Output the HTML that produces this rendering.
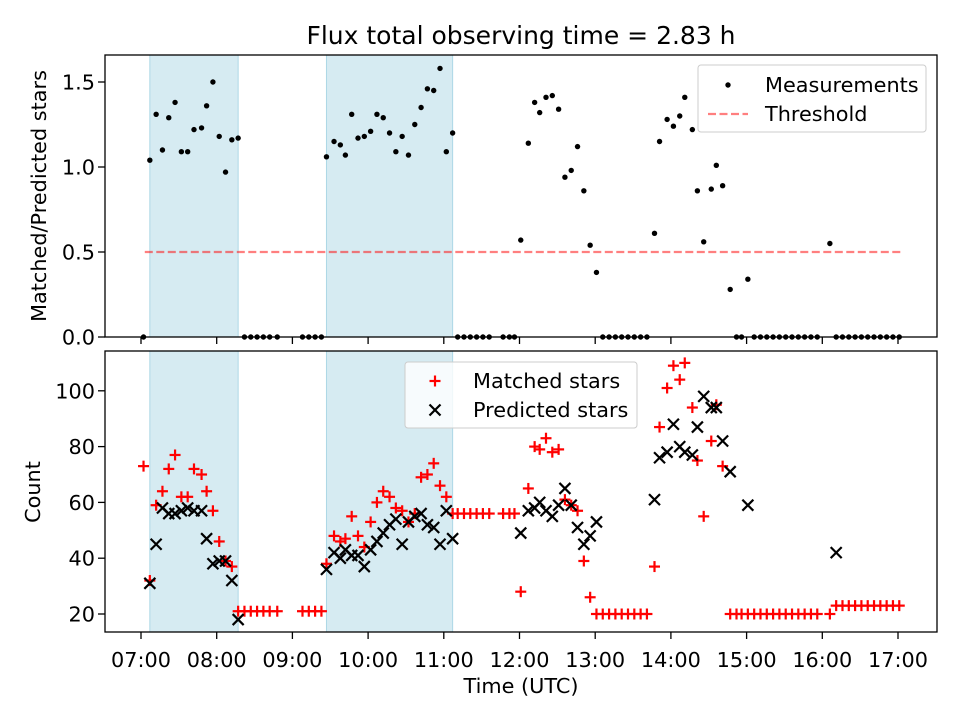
<!DOCTYPE html>
<html><head><meta charset="utf-8"><style>
body{margin:0;background:#fff}
svg text{font-family:"DejaVu Sans","Liberation Sans",sans-serif;fill:#000}
</style></head><body>
<svg id="c" width="960" height="720" xmlns="http://www.w3.org/2000/svg"></svg>
<script>
// minutes after 07:00 UTC
const minutes=[2,7,12,17,22,27,32,37,42,48,52,57,62,67,72,77,82,87,92,97,102,108,128,133,138,143,147,153,158,162,167,172,177,182,187,192,197,202,207,212,217,222,227,232,237,242,247,251,256,261,266,271,276,287,292,296,301,307,312,316,321,326,331,336,341,346,351,356,361,366,371,376,381,386,391,396,401,407,411,417,422,427,431,437,441,446,452,456,461,467,472,476,481,486,491,496,501,506,511,516,521,526,531,536,546,551,556,561,566,571,576,581,586,591,596,601];
const ratio=[0,1.04,1.31,1.10,1.29,1.38,1.09,1.09,1.22,1.23,1.36,1.50,1.18,0.97,1.16,1.17,0,0,0,0,0,0,0,0,0,0,1.06,1.15,1.13,1.07,1.31,1.17,1.18,1.21,1.31,1.29,1.20,1.09,1.18,1.07,1.25,1.35,1.46,1.45,1.58,1.09,1.20,0,0,0,0,0,0,0,0,0,0.57,1.14,1.38,1.32,1.41,1.42,1.34,0.94,0.98,1.12,0.86,0.54,0.38,0,0,0,0,0,0,0,0,0.61,1.15,1.28,1.24,1.30,1.41,1.22,0.86,0.56,0.87,1.01,0.89,0.28,0,0,0.34,0,0,0,0,0,0,0,0,0,0,0,0.55,0,0,0,0,0,0,0,0,0,0,0];
const matched=[73,32,59,64,72,77,62,62,72,70,64,57,46,39,37,21,21,21,21,21,21,21,21,21,21,21,38,48,46,47,55,48,44,53,60,64,62,58,57,53,56,69,70,74,66,62,56,56,56,56,56,56,56,56,56,56,28,65,80,79,83,78,79,61,59,57,39,26,20,20,20,20,20,20,20,20,20,37,87,101,109,104,110,94,75,55,82,95,73,20,20,20,20,20,20,20,20,20,20,20,20,20,20,20,20,23,23,23,23,23,23,23,23,23,23,23,23];
const predicted=[null,31,45,58,56,56,57,58,57,57,47,38,39,39,32,18,null,null,null,null,null,null,null,null,null,null,36,42,40,43,41,41,37,43,46,49,52,54,45,53,55,56,52,51,45,57,47,null,null,null,null,null,null,null,null,null,49,57,58,60,57,55,59,65,59,51,45,48,53,null,null,null,null,null,null,null,null,61,76,78,88,80,78,77,87,98,94,94,82,71,null,null,59,null,null,null,null,null,null,null,null,null,null,null,null,42,null,null,null,null,null,null,null,null,null,null,null];
const shadeStart=[7,147], shadeEnd=[77,247];
const threshold=0.5;
const xTicks=[0,60,120,180,240,300,360,420,480,540,600];
const xTickLabels=["07:00","08:00","09:00","10:00","11:00","12:00","13:00","14:00","15:00","16:00","17:00"];
const yTopTicks=[0,0.5,1.0,1.5], yTopLabels=["0.0","0.5","1.0","1.5"];
const yBotTicks=[20,40,60,80,100], yBotLabels=["20","40","60","80","100"];

const NS="http://www.w3.org/2000/svg";
const svg=document.getElementById('c');
function el(tag,attrs,parent,text){const e=document.createElementNS(NS,tag);for(const k in attrs)e.setAttribute(k,attrs[k]);if(text!==undefined)e.textContent=text;(parent||svg).appendChild(e);return e;}
const L=105,R=937;
const FS=20.8;
const x=m=>141+m*75.7/60;
const yT=v=>337-v*170;
const yB=v=>614-(v-20)*2.79;
const topP={t:55,b:337}, botP={t:351,b:632};

const title=el('text',{x:521,y:44,'text-anchor':'middle','font-size':25},svg,'Flux total observing time = 2.83 h');



function panel(p,name){
  const g=el('g',{});
  
  
  for(let i=0;i<shadeStart.length;i++){
    const r=el('rect',{x:x(shadeStart[i]),y:p.t,width:x(shadeEnd[i])-x(shadeStart[i]),height:p.b-p.t,fill:'#add8e6','fill-opacity':0.5,stroke:'#add8e6','stroke-width':1},g);
    
    
  }
  return g;
}
function frame(p,yTicks,yLabels,yf,name,showX){
  const g=el('g',{});
  
  
  el('rect',{x:L,y:p.t,width:R-L,height:p.b-p.t,fill:'none',stroke:'#000','stroke-width':1.3},g);
  yTicks.forEach((v,i)=>{const yy=yf(v);el('line',{x1:L-7,x2:L,y1:yy,y2:yy,stroke:'#000','stroke-width':1.3},g);
    el('text',{x:L-10,y:yy+7.5,'text-anchor':'end','font-size':FS},g,yLabels[i]);});
  xTicks.forEach((m,i)=>{el('line',{x1:x(m),x2:x(m),y1:p.b,y2:p.b+7,stroke:'#000','stroke-width':1.3},g);
    if(showX)el('text',{x:x(m),y:p.b+35,'text-anchor':'middle','font-size':FS},g,xTickLabels[i]);});
}
// top panel
const gt=panel(topP,'top-panel');
const th=el('line',{x1:x(3),x2:x(602),y1:yT(threshold),y2:yT(threshold),stroke:'#ff0000','stroke-opacity':0.5,'stroke-width':2.2,'stroke-dasharray':'8,3.5'},gt);


minutes.forEach((m,i)=>{const c=el('circle',{cx:x(m),cy:yT(ratio[i]),r:2.7,fill:'#000'},gt);
  
  });
frame(topP,yTopTicks,yTopLabels,yT,'top-axes',false);
const yt1=el('text',{x:0,y:0,'text-anchor':'middle','font-size':FS,transform:'translate(46,196) rotate(-90)'},svg,'Matched/Predicted stars');


// top legend
const lg=el('g',{});


el('rect',{x:698,y:65,width:228,height:67,rx:3,fill:'#fff','fill-opacity':0.8,stroke:'#ccc'},lg);
el('circle',{cx:728,cy:85,r:2.7,fill:'#000'},lg);
el('text',{x:765,y:92,'font-size':FS},lg,'Measurements');
el('line',{x1:708,x2:748,y1:114,y2:114,stroke:'#ff0000','stroke-opacity':0.5,'stroke-width':2.2,'stroke-dasharray':'8,3.5'},lg);
el('text',{x:765,y:121,'font-size':FS},lg,'Threshold');

// bottom panel
const gb=panel(botP,'bottom-panel');
function plus(cx,cy,parent){const g=el('g',{stroke:'#ff0000','stroke-width':2.2},parent);el('line',{x1:cx-5.5,x2:cx+5.5,y1:cy,y2:cy},g);el('line',{x1:cx,x2:cx,y1:cy-5.5,y2:cy+5.5},g);return g;}
function cross(cx,cy,parent){const g=el('g',{stroke:'#000','stroke-width':2.2},parent);el('line',{x1:cx-5.5,x2:cx+5.5,y1:cy-5.5,y2:cy+5.5},g);el('line',{x1:cx-5.5,x2:cx+5.5,y1:cy+5.5,y2:cy-5.5},g);return g;}
minutes.forEach((m,i)=>{const p=plus(x(m),yB(matched[i]),gb);
  
  });
minutes.forEach((m,i)=>{if(predicted[i]==null)return;const c=cross(x(m),yB(predicted[i]),gb);
  
  });
frame(botP,yBotTicks,yBotLabels,yB,'bottom-axes',true);
const yt2=el('text',{x:0,y:0,'text-anchor':'middle','font-size':FS,transform:'translate(40,492) rotate(-90)'},svg,'Count');


const xt=el('text',{x:521,y:693,'text-anchor':'middle','font-size':FS},svg,'Time (UTC)');


const lb=el('g',{});


el('rect',{x:405,y:362,width:232,height:66,rx:3,fill:'#fff','fill-opacity':0.8,stroke:'#ccc'},lb);
plus(435,381,lb);
el('text',{x:473,y:388,'font-size':FS},lb,'Matched stars');
cross(435,410,lb);
el('text',{x:473,y:417,'font-size':FS},lb,'Predicted stars');
</script>
</body></html>
